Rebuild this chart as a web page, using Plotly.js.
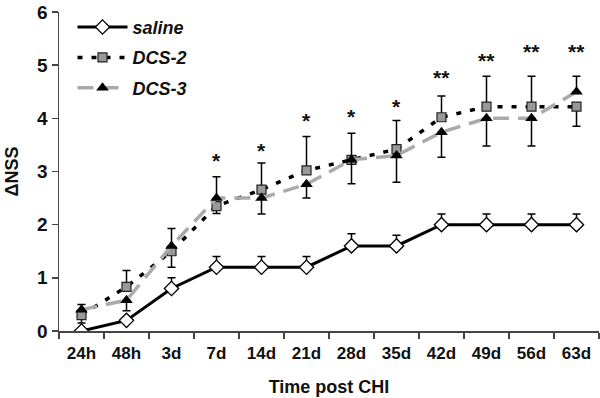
<!DOCTYPE html>
<html>
<head>
<meta charset="utf-8">
<script src="https://cdn.plot.ly/plotly-3.0.1.min.js"></script>
<style>html,body{margin:0;padding:0;background:#fff;}#chart{width:600px;height:398px;}</style>
</head>
<body>
<div id="chart"></div>
<script>
const categories = ["24h","48h","3d","7d","14d","21d","28d","35d","42d","49d","56d","63d"];
const salineY    = [0, 0.2, 0.8, 1.2, 1.2, 1.2, 1.6, 1.6, 2.0, 2.0, 2.0, 2.0];
const salineUp   = [0, 0, 0.2, 0.2, 0.2, 0.2, 0.23, 0.2, 0.2, 0.2, 0.2, 0.2];
const dcs2Y      = [0.3, 0.83, 1.5, 2.35, 2.66, 3.02, 3.22, 3.42, 4.02, 4.22, 4.22, 4.22];
const dcs2Up     = [0, 0.31, 0, 0, 0.5, 0.64, 0.5, 0.54, 0.4, 0.57, 0.57, 0];
const dcs2Down   = [0.15, 0, 0.3, 0.14, 0, 0, 0, 0, 0, 0, 0, 0.37];
const dcs3Y      = [0.4, 0.58, 1.6, 2.5, 2.5, 2.76, 3.22, 3.3, 3.74, 4.0, 4.0, 4.5];
const dcs3Up     = [0.1, 0, 0.33, 0.4, 0, 0, 0, 0, 0, 0, 0, 0.29];
const dcs3Down   = [0, 0.2, 0, 0, 0.3, 0.26, 0.45, 0.5, 0.47, 0.52, 0.52, 0];
const sigLabels  = ["", "", "", "*", "*", "*", "*", "*", "**", "**", "**", "**"];
const sigY       = [null, null, null, 3.2, 3.4, 3.95, 4.03, 4.23, 4.77, 5.09, 5.26, 5.26];

const FONT = "Arial, 'Liberation Sans', sans-serif";

const traces = [
  {
    x: categories, y: salineY, name: "saline", type: "scatter", mode: "lines+markers", legendgroup: "a",
    line: {color: "#000", width: 3},
    marker: {symbol: "diamond", size: 11, color: "#fff", line: {color: "#000", width: 1.3}},
    error_y: {type: "data", symmetric: false, array: salineUp, arrayminus: salineUp.map(() => 0),
              color: "#000", thickness: 1.5, width: 4}
  },
  {
    x: categories, y: dcs2Y, name: "DCS-2", type: "scatter", mode: "lines+markers", legendgroup: "b",
    line: {color: "#000", width: 3.5, dash: "5px,9px"},
    marker: {symbol: "square", size: 9, color: "#999", line: {color: "#222", width: 1.2}},
    error_y: {type: "data", symmetric: false, array: dcs2Up, arrayminus: dcs2Down,
              color: "#000", thickness: 1.5, width: 4}
  },
  {
    x: categories, y: dcs3Y, name: "DCS-3", type: "scatter", mode: "lines+markers", legendgroup: "c",
    line: {color: "#aaa", width: 3.5, dash: "16px,9px"},
    marker: {symbol: "triangle-up", size: 11, color: "#000", line: {color: "#000", width: 0}},
    error_y: {type: "data", symmetric: false, array: dcs3Up, arrayminus: dcs3Down,
              color: "#000", thickness: 1.5, width: 4}
  }
];

const annotations = categories.map((c, i) => sigLabels[i] ? {
  x: c, y: sigY[i], xref: "x", yref: "y", text: sigLabels[i], showarrow: false,
  font: {family: FONT, size: 21, color: "#111", weight: "bold"}, yanchor: "middle"
} : null).filter(a => a);

const layout = {
  width: 600, height: 398,
  margin: {l: 59, r: 1, t: 12, b: 67},
  paper_bgcolor: "#fff", plot_bgcolor: "#fff",
  showlegend: true,
  legend: {x: 0.025, y: 1.01, xanchor: "left", yanchor: "top", bgcolor: "rgba(0,0,0,0)",
           font: {family: FONT, size: 18, color: "#111", weight: "bold", style: "italic"},
           tracegroupgap: 4, itemwidth: 50},
  xaxis: {
    type: "category", range: [-0.5, 11.5], tickson: "boundaries",
    showline: true, linecolor: "#444", linewidth: 1.5,
    ticks: "outside", ticklen: 6, tickcolor: "#444", tickwidth: 1.5,
    ticklabelstandoff: 6,
    showgrid: false, zeroline: false,
    tickfont: {family: FONT, size: 17, color: "#111", weight: "bold"},
    title: {text: "Time post CHI", font: {family: FONT, size: 18, color: "#111", weight: "bold"}, standoff: 18}
  },
  yaxis: {
    range: [0, 6], dtick: 1, showline: true, linecolor: "#444", linewidth: 1.5,
    ticks: "outside", ticklen: 6, tickcolor: "#444", tickwidth: 1.5,
    showgrid: false, zeroline: false,
    tickfont: {family: FONT, size: 19, color: "#111", weight: "bold"},
    title: {text: "ΔNSS", font: {family: FONT, size: 18, color: "#111", weight: "bold"}, standoff: 14}
  },
  annotations: annotations
};

Plotly.newPlot("chart", traces, layout, {displayModeBar: false, staticPlot: true});
</script>
</body>
</html>
